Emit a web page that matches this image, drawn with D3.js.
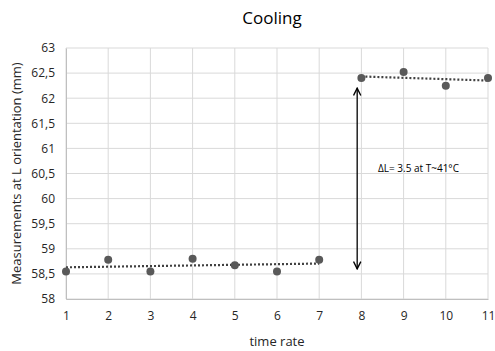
<!DOCTYPE html>
<html>
<head>
<meta charset="utf-8">
<script src="https://cdn.jsdelivr.net/npm/d3@7"></script>
<style>
  body { margin: 0; background: #fff; }
  text { font-family: "Open Sans", "Liberation Sans", sans-serif; }
</style>
</head>
<body>
<svg id="chart"></svg>
<script>
// data
const timeRate = [1, 2, 3, 4, 5, 6, 7, 8, 9, 10, 11];
const measurements = [58.55, 58.78, 58.55, 58.8, 58.67, 58.55, 58.78, 62.4, 62.52, 62.25, 62.4];
const yTicks = [58, 58.5, 59, 59.5, 60, 60.5, 61, 61.5, 62, 62.5, 63];
const groups = [[0, 7], [7, 11]]; // index ranges for the two trend lines
const arrowAt = { x: 7.9, y1: 58.6, y2: 62.2 };

const width = 495, height = 351;
const margin = { top: 48, right: 7, bottom: 52, left: 66 };

const svg = d3.select("#chart")
    .attr("width", width)
    .attr("height", height);

const x = d3.scaleLinear().domain([1, 11]).range([margin.left, width - margin.right]);
const y = d3.scaleLinear().domain([58, 63]).range([height - margin.bottom, margin.top]);

// gridlines
svg.append("g")
    .selectAll("line")
    .data(yTicks)
    .join("line")
    .attr("x1", x(1)).attr("x2", x(11))
    .attr("y1", d => y(d)).attr("y2", d => y(d))
    .attr("stroke", "#d9d9d9");

svg.append("g")
    .selectAll("line")
    .data(timeRate)
    .join("line")
    .attr("x1", d => x(d)).attr("x2", d => x(d))
    .attr("y1", y(58)).attr("y2", y(63))
    .attr("stroke", "#d9d9d9");

// axes
const xAxis = svg.append("g")
    .attr("transform", `translate(0,${y(58)})`)
    .call(d3.axisBottom(x).tickValues(timeRate).tickSize(0).tickPadding(12));
xAxis.select(".domain").attr("stroke", "#bfbfbf");
xAxis.selectAll("text").attr("font-size", 12).attr("fill", "#262626")
    .style("font-family", "'Open Sans', sans-serif");

const yAxis = svg.append("g")
    .attr("transform", `translate(${x(1)},0)`)
    .call(d3.axisLeft(y).tickValues(yTicks).tickSize(0).tickPadding(11)
        .tickFormat(d => String(d).replace(".", ",")));
yAxis.select(".domain").attr("stroke", "#bfbfbf");
yAxis.selectAll("text").attr("font-size", 12).attr("fill", "#262626")
    .style("font-family", "'Open Sans', sans-serif");

// trend lines (least squares on each group)
groups.forEach(([a, b]) => {
    const xs = timeRate.slice(a, b), ys = measurements.slice(a, b);
    const mx = d3.mean(xs), my = d3.mean(ys);
    const slope = d3.sum(xs, (v, i) => (v - mx) * (ys[i] - my)) / d3.sum(xs, v => (v - mx) ** 2);
    const f = v => my + slope * (v - mx);
    svg.append("line")
        .attr("x1", x(xs[0])).attr("y1", y(f(xs[0])))
        .attr("x2", x(xs[xs.length - 1])).attr("y2", y(f(xs[xs.length - 1])))
        .attr("stroke", "#404040")
        .attr("stroke-width", 2.2)
        .attr("stroke-dasharray", "2,2");
});

// points
svg.append("g")
    .selectAll("circle")
    .data(timeRate)
    .join("circle")
    .attr("cx", d => x(d))
    .attr("cy", (d, i) => y(measurements[i]))
    .attr("r", 4)
    .attr("fill", "#595959");

// double arrow
const defs = svg.append("defs");
defs.append("marker")
    .attr("id", "ah")
    .attr("viewBox", "0 0 10 10")
    .attr("refX", 9).attr("refY", 5)
    .attr("markerWidth", 7).attr("markerHeight", 7)
    .attr("orient", "auto-start-reverse")
    .append("path")
    .attr("d", "M1,1 L9,5 L1,9")
    .attr("fill", "none")
    .attr("stroke", "#000")
    .attr("stroke-width", 1.5);

svg.append("line")
    .attr("x1", x(arrowAt.x)).attr("x2", x(arrowAt.x))
    .attr("y1", y(arrowAt.y1)).attr("y2", y(arrowAt.y2))
    .attr("stroke", "#000")
    .attr("stroke-width", 1.3)
    .attr("marker-start", "url(#ah)")
    .attr("marker-end", "url(#ah)");

svg.append("text")
    .attr("x", 378).attr("y", 172)
    .attr("font-size", 10)
    .attr("fill", "#000")
    .text("ΔL= 3.5 at T~41°C");

// titles
svg.append("text")
    .attr("x", 272).attr("y", 24)
    .attr("text-anchor", "middle")
    .attr("font-size", 17)
    .attr("fill", "#000")
    .text("Cooling");

svg.append("text")
    .attr("x", 277).attr("y", 346)
    .attr("text-anchor", "middle")
    .attr("font-size", 13)
    .attr("fill", "#262626")
    .text("time rate");

svg.append("text")
    .attr("transform", `translate(21,${(y(58) + y(63)) / 2}) rotate(-90)`)
    .attr("text-anchor", "middle")
    .attr("font-size", 13)
    .attr("fill", "#262626")
    .text("Measurements at L orientation (mm)");
</script>
</body>
</html>
